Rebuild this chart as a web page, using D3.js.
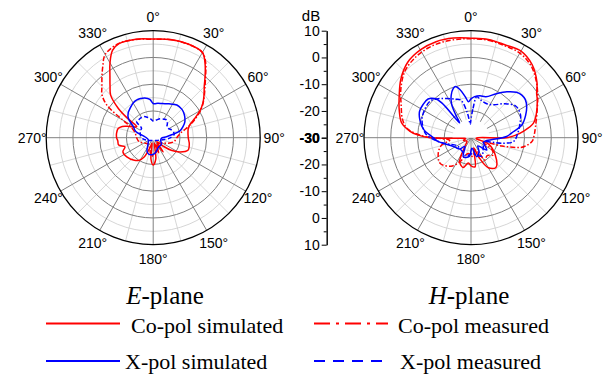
<!DOCTYPE html>
<meta charset="utf-8">
<style>
body { margin: 0; background: #fff; }
text { font-family: "Liberation Sans", Arial, sans-serif; }
.leg { font-family: "Liberation Serif", "Times New Roman", serif; }
</style>
<svg width="609" height="375"></svg>
<script src="https://cdn.jsdelivr.net/npm/d3@7"></script>
<script>

// angles in degrees (clockwise from 0 at top), values in dB

// E-plane
var eCoSimA = [0,10,20,30,35,40,45,50,55,60,65,70,75,80,90,100,110,118,125,130,138,145,152,160,167,173,180,186,192,198,205,212,220,234,245,252,258,265,270,277,285,290,295,300,304,307,310,315,320,325,330,335,340,350];
var eCoSimV = [6.9,7.3,7.4,6.8,3.8,0.2,-3.0,-5.2,-7.3,-9.8,-12.8,-15.3,-16.4,-16.8,-16.9,-16.3,-16.2,-18.6,-21.8,-25,-28,-23.5,-27,-24,-28,-22,-19.8,-22,-28,-26,-22,-20,-19,-17.8,-17.5,-18.9,-16.8,-16.7,-16.3,-16.2,-16.5,-17.7,-20,-22,-22.6,-18,-13,-7.5,-4.9,-1.8,2.3,6.0,7.4,7.4];

var eCoMeaA = [0,10,20,30,35,40,45,50,55,60,65,70,75,80,90,100,110,120,140,160,175,185,200,220,240,255,270,285,295,300,305,310,315,320,325,330,340,350];
var eCoMeaV = [6.8,7.2,7.3,6.8,4.2,0.5,-2.6,-5.0,-7.2,-9.5,-12.3,-15,-17.5,-19.5,-21.2,-22,-24,-26,-27,-25,-24,-23,-26,-27,-26,-24.5,-23.8,-23,-21,-17,-9,-5,-2.9,-0.2,2.8,5.9,7.5,7.3];

var eXSimA = [0,8,15,25,36,45,50,56,63,70,76,81,86,95,110,130,150,165,175,185,195,205,220,250,275,290,299,308,315,322,330,336,342,348,355];
var eXSimV = [-17.2,-17,-16.8,-16,-14.9,-14.9,-15.2,-15.8,-16.7,-18.2,-19.8,-23,-25,-27,-27,-26,-26,-25,-24,-23.6,-23.6,-24.5,-27,-28,-27,-23,-21.5,-18.2,-16.8,-16,-15,-14.6,-14.6,-14.8,-15.6];

var eXMeaA = [0,10,20,30,37,45,52,58,68,80,90,100,120,180,240,265,285,300,309,314,320,328,335,345,353];
var eXMeaV = [-23.8,-23.3,-22.5,-22,-21.7,-22.5,-23.5,-23.4,-22.5,-22,-23.5,-26,-28,-29,-28,-26,-25,-24.5,-24.4,-21.4,-21.4,-21.3,-21.3,-22.2,-23];

// H-plane
var hCoSimA = [0,10,20,30,40,50,56,60,70,77,83,87,90,93,100,110,125,140,150,158,165,172,180,186,195,205,215,230,250,262,266,270,273,276,282,290,300,310,320,330,340,350];
var hCoSimV = [7.2,7.3,7.0,7.4,5.6,2.2,-0.4,-1.4,-4.0,-6.1,-10.3,-13.5,-16.7,-28,-28,-23,-19,-15.5,-17,-22,-26,-19,-19.5,-20.5,-18.5,-20,-26,-28,-27,-28,-27,-14.7,-10,-7.1,-3.5,-1.5,1.0,4.2,6.8,7.9,8.2,7.8];

var hCoMeaA = [0,10,20,30,40,50,60,70,80,87,93,97,101,105,110,120,128,138,148,160,175,190,205,215,230,245,256,263,268,272,278,285,295,305,315,325,335,345,355];
var hCoMeaV = [7.0,7.0,6.6,6.5,5.0,2.0,-1.2,-3.8,-5.5,-6.3,-7.0,-8.5,-11,-18,-25,-21,-19.5,-21,-20.2,-25,-23,-24,-20,-17,-15,-16.5,-18.7,-22,-19,-12,-6,-3.5,-1.2,2.0,5.0,6.5,7.2,7.3,7.1];

var hXSimA = [0,5,12,20,30,38,45,50,55,61,68,76,82,88,95,100,110,128,140,150,163,175,185,202,215,225,240,255,263,270,280,289,297,305,312,317,320,322.5,326,330,335,340,343,347,352,356];
var hXSimV = [-15.5,-14.6,-14,-13.7,-11,-8.2,-6,-5.2,-5.2,-6.2,-8,-10.4,-14,-16.7,-22,-24,-25,-22.5,-26,-24,-22.6,-26,-23,-22.3,-26,-24,-23,-20.5,-17.7,-15.9,-12,-9.8,-8.4,-8.2,-8.4,-10,-13,-23,-20,-15.5,-12.5,-10.5,-10,-11.5,-14.5,-16.5];

var hXMeaA = [0,4,8,15,25,35,45,55,65,73,85,95,100,110,130,150,160,175,195,215,240,255,265,275,290,300,312,320,328,338,345,352,357];
var hXMeaV = [-23,-19,-14.5,-15.5,-16,-15,-12,-9.5,-9.6,-10.8,-12.5,-14,-18,-25,-24,-22,-23,-24,-23,-24,-24,-21,-17,-13,-10.5,-9.8,-9.5,-11,-12.7,-14.5,-15.5,-21,-25];

// radial axis
var radTicks = [-30,-20,-10,0,10];
var radMinor = [-25,-15,-5,5];
var angTicks = d3.range(0, 360, 30);

var svg = d3.select("svg");
var R = 107, cy = 137.7;
var r = d3.scaleLinear().domain([-30, 10]).range([0, R]).clamp(true);

function pts(a, v) { return a.map(function(d, i) { return [d, v[i]]; }); }

var line = d3.lineRadial()
    .angle(function(d) { return d[0] * Math.PI / 180; })
    .radius(function(d) { return r(d[1]); })
    .curve(d3.curveCatmullRomClosed.alpha(0.5));

function polar(cx, curves, holeType) {
  var g = svg.append("g").attr("transform", "translate(" + cx + "," + cy + ")");

  // minor grid
  g.selectAll(".rmin").data(radMinor).enter().append("circle")
      .attr("r", function(d) { return r(d); })
      .attr("fill", "none").attr("stroke", "#cccccc").attr("stroke-width", 0.8);
  g.selectAll(".smin").data(d3.range(15, 360, 30)).enter().append("line")
      .attr("x2", function(d) { return R * Math.sin(d * Math.PI / 180); })
      .attr("y2", function(d) { return -R * Math.cos(d * Math.PI / 180); })
      .attr("stroke", "#cccccc").attr("stroke-width", 0.8);

  // major grid
  g.selectAll(".rmaj").data([-20, -10, 0]).enter().append("circle")
      .attr("r", function(d) { return r(d); })
      .attr("fill", "none").attr("stroke", "#808080").attr("stroke-width", 1);
  g.selectAll(".smaj").data(angTicks).enter().append("line")
      .attr("x2", function(d) { return R * Math.sin(d * Math.PI / 180); })
      .attr("y2", function(d) { return -R * Math.cos(d * Math.PI / 180); })
      .attr("stroke", "#808080").attr("stroke-width", 1);

  if (holeType == "half") {
    g.append("path")
        .attr("d", d3.arc()({innerRadius: 0, outerRadius: 18.5, startAngle: -Math.PI / 2, endAngle: Math.PI / 2}))
        .attr("fill", "#fff");
  }

  curves.forEach(function(c) {
    g.append("path")
        .attr("d", line(c.data))
        .attr("fill", c.fill || "none")
        .attr("stroke", c.color)
        .attr("stroke-width", 1.5)
        .attr("stroke-dasharray", c.dash || null);
  });

  // outer ring
  g.append("circle").attr("r", R).attr("fill", "none").attr("stroke", "#000").attr("stroke-width", 1.3);

  // angle labels
  g.selectAll(".al").data(angTicks).enter().append("text")
      .attr("x", function(d) { return 121 * Math.sin(d * Math.PI / 180); })
      .attr("y", function(d) { return -121 * Math.cos(d * Math.PI / 180); })
      .attr("dy", "0.36em")
      .attr("text-anchor", "middle")
      .style("font-size", "14px")
      .text(function(d) { return d + "°"; });
}

var red = "#ff0000", blue = "#0000ff";

polar(153.2, [
  {data: pts(eXMeaA, eXMeaV), color: blue, dash: "4,2.5", fill: "#fff"},
  {data: pts(eCoMeaA, eCoMeaV), color: red, dash: "5,2,1.5,2"},
  {data: pts(eCoSimA, eCoSimV), color: red},
  {data: pts(eXSimA, eXSimV), color: blue}
], "fill");

polar(471, [
  {data: pts(hCoMeaA, hCoMeaV), color: red, dash: "5,2,1.5,2"},
  {data: pts(hCoSimA, hCoSimV), color: red},
  {data: pts(hXMeaA, hXMeaV), color: blue, dash: "5,2,1.5,2"},
  {data: pts(hXSimA, hXSimV), color: blue}
], "half");

// middle radial axis
var ax = svg.append("g").attr("transform", "translate(326.7,0)");
var yTop = d3.scaleLinear().domain([-30, 10]).range([cy, cy - R]);
var yBot = d3.scaleLinear().domain([-30, 10]).range([cy, cy + R]);
[yTop, yBot].forEach(function(s) {
  ax.append("g")
      .call(d3.axisLeft(s).tickValues(radMinor).tickSize(3).tickSizeOuter(0).tickFormat(""));
  var a = ax.append("g")
      .call(d3.axisLeft(s).tickValues(radTicks).tickSize(5).tickSizeOuter(0).tickPadding(2).tickFormat(d3.format("d")));
  a.selectAll("text")
      .attr("font-family", "Liberation Sans, Arial, sans-serif")
      .attr("font-size", 14)
      .attr("font-weight", function(d) { return d == -30 ? "bold" : null; })
      .text(function(d) { return d < 0 ? "-" + Math.abs(d) : d; });
});
ax.selectAll("path, line").attr("stroke", "#000");
svg.append("text").attr("x", 311).attr("y", 21).attr("text-anchor", "middle")
    .style("font-size", "15px").text("dB");

// titles
var t1 = svg.append("text").attr("class", "leg").attr("x", 165).attr("y", 304)
    .attr("text-anchor", "middle").style("font-size", "25px");
t1.append("tspan").style("font-style", "italic").text("E");
t1.append("tspan").text("-plane");
var t2 = svg.append("text").attr("class", "leg").attr("x", 469).attr("y", 304)
    .attr("text-anchor", "middle").style("font-size", "25px");
t2.append("tspan").style("font-style", "italic").text("H");
t2.append("tspan").text("-plane");

// legend
var legItems = [
  {x1: 46, x2: 120, y: 323.5, color: red, dash: null, tx: 131, ty: 333, label: "Co-pol simulated"},
  {x1: 46, x2: 120, y: 361, color: blue, dash: null, tx: 125, ty: 369, label: "X-pol simulated"},
  {x1: 314, x2: 388, y: 323.5, color: red, dash: "16,6,3,6", tx: 398, ty: 333, label: "Co-pol measured"},
  {x1: 314, x2: 388, y: 361, color: blue, dash: "11,8", tx: 400, ty: 369, label: "X-pol measured"}
];
legItems.forEach(function(d) {
  svg.append("line").attr("x1", d.x1).attr("x2", d.x2).attr("y1", d.y).attr("y2", d.y)
      .attr("stroke", d.color).attr("stroke-width", 1.8).attr("stroke-dasharray", d.dash);
  svg.append("text").attr("class", "leg").attr("x", d.tx).attr("y", d.ty)
      .style("font-size", "22px").text(d.label);
});

</script>
